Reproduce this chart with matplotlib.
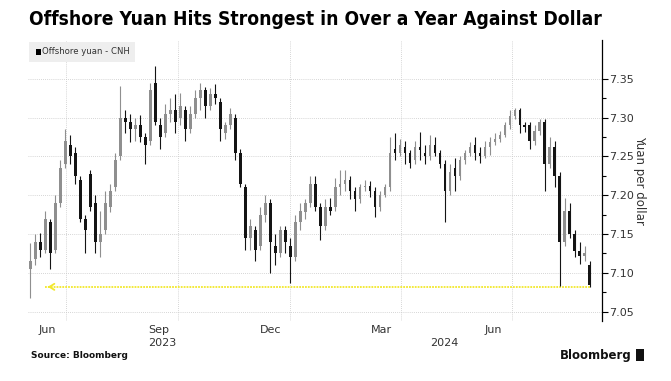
"""Offshore yuan (CNH) candlestick chart, Bloomberg style."""

import matplotlib
matplotlib.use('Agg')
from matplotlib import pyplot as plt
from matplotlib import dates as mdates
from matplotlib import transforms
from matplotlib.patches import Rectangle
import numpy as np
import pandas as pd


TITLE = 'Offshore Yuan Hits Strongest in Over a Year Against Dollar'
LEGEND = 'Offshore yuan - CNH'
YLABEL = 'Yuan per dollar'
SOURCE = 'Source: Bloomberg'

# First and last bar of the series (bars are spread evenly between them)
FIRST_BAR = '2023-06-02'
LAST_BAR = '2024-09-03'

# Candle values, roughly one bar per 4 days
OPEN = [7.105, 7.118, 7.140, 7.130, 7.165, 7.130, 7.190, 7.240, 7.265, 7.255,
        7.220, 7.170, 7.228, 7.190, 7.140, 7.155, 7.185, 7.210, 7.250, 7.300,
        7.295, 7.285, 7.290, 7.275, 7.270, 7.345, 7.290, 7.280, 7.305, 7.310,
        7.300, 7.310, 7.285, 7.305, 7.325, 7.335, 7.315, 7.330, 7.320, 7.280,
        7.290, 7.300, 7.255, 7.210, 7.145, 7.155, 7.135, 7.175, 7.190, 7.135,
        7.125, 7.155, 7.135, 7.120, 7.165, 7.178, 7.190, 7.215, 7.185, 7.160,
        7.185, 7.185, 7.210, 7.215, 7.220, 7.205, 7.195, 7.210, 7.212, 7.205,
        7.185, 7.200, 7.210, 7.260, 7.255, 7.262, 7.255, 7.245, 7.262, 7.255,
        7.250, 7.265, 7.255, 7.240, 7.205, 7.235, 7.225, 7.245, 7.255, 7.265,
        7.255, 7.250, 7.262, 7.268, 7.272, 7.278, 7.290, 7.302, 7.310, 7.290,
        7.290, 7.270, 7.283, 7.295, 7.240, 7.262, 7.225, 7.140, 7.180, 7.150,
        7.128, 7.122, 7.110]
HIGH = [7.138, 7.150, 7.152, 7.180, 7.170, 7.200, 7.245, 7.285, 7.278, 7.262,
        7.225, 7.175, 7.232, 7.200, 7.180, 7.205, 7.215, 7.255, 7.341, 7.310,
        7.305, 7.300, 7.303, 7.280, 7.345, 7.367, 7.300, 7.318, 7.325, 7.330,
        7.332, 7.315, 7.315, 7.335, 7.345, 7.340, 7.338, 7.343, 7.325, 7.295,
        7.312, 7.305, 7.260, 7.215, 7.170, 7.160, 7.185, 7.200, 7.195, 7.150,
        7.160, 7.160, 7.145, 7.175, 7.190, 7.195, 7.225, 7.225, 7.190, 7.195,
        7.196, 7.222, 7.232, 7.232, 7.225, 7.210, 7.215, 7.220, 7.218, 7.210,
        7.205, 7.215, 7.275, 7.280, 7.272, 7.270, 7.258, 7.270, 7.281, 7.265,
        7.277, 7.275, 7.258, 7.245, 7.240, 7.248, 7.250, 7.258, 7.268, 7.275,
        7.262, 7.270, 7.275, 7.280, 7.283, 7.295, 7.310, 7.312, 7.312, 7.295,
        7.295, 7.290, 7.298, 7.298, 7.275, 7.270, 7.230, 7.196, 7.190, 7.155,
        7.140, 7.135, 7.115]
LOW = [7.068, 7.110, 7.120, 7.125, 7.105, 7.125, 7.185, 7.235, 7.240, 7.215,
       7.165, 7.125, 7.180, 7.125, 7.120, 7.150, 7.178, 7.205, 7.245, 7.280,
       7.268, 7.270, 7.268, 7.240, 7.265, 7.290, 7.260, 7.275, 7.295, 7.280,
       7.290, 7.270, 7.280, 7.300, 7.310, 7.300, 7.310, 7.318, 7.270, 7.272,
       7.285, 7.245, 7.210, 7.130, 7.130, 7.115, 7.130, 7.165, 7.100, 7.110,
       7.120, 7.125, 7.087, 7.115, 7.155, 7.170, 7.185, 7.180, 7.142, 7.155,
       7.175, 7.180, 7.200, 7.205, 7.195, 7.180, 7.190, 7.205, 7.198, 7.172,
       7.180, 7.198, 7.205, 7.245, 7.250, 7.240, 7.235, 7.240, 7.245, 7.240,
       7.245, 7.250, 7.235, 7.166, 7.200, 7.205, 7.220, 7.240, 7.250, 7.245,
       7.242, 7.248, 7.252, 7.265, 7.268, 7.275, 7.285, 7.298, 7.280, 7.282,
       7.260, 7.265, 7.278, 7.205, 7.235, 7.210, 7.083, 7.135, 7.145, 7.120,
       7.112, 7.115, 7.082]
CLOSE = [7.115, 7.140, 7.130, 7.170, 7.125, 7.190, 7.235, 7.270, 7.250, 7.225,
         7.170, 7.155, 7.185, 7.140, 7.150, 7.190, 7.205, 7.245, 7.300, 7.295,
         7.285, 7.290, 7.275, 7.265, 7.335, 7.295, 7.275, 7.305, 7.310, 7.295,
         7.315, 7.285, 7.305, 7.325, 7.335, 7.315, 7.330, 7.325, 7.285, 7.290,
         7.305, 7.255, 7.215, 7.145, 7.160, 7.130, 7.175, 7.190, 7.140, 7.125,
         7.155, 7.140, 7.120, 7.165, 7.180, 7.190, 7.215, 7.185, 7.160, 7.185,
         7.180, 7.210, 7.215, 7.220, 7.205, 7.195, 7.210, 7.212, 7.205, 7.185,
         7.200, 7.210, 7.255, 7.255, 7.265, 7.255, 7.242, 7.262, 7.258, 7.250,
         7.265, 7.255, 7.240, 7.205, 7.230, 7.225, 7.245, 7.255, 7.262, 7.255,
         7.250, 7.262, 7.268, 7.272, 7.278, 7.290, 7.302, 7.310, 7.290, 7.288,
         7.270, 7.283, 7.295, 7.240, 7.262, 7.225, 7.140, 7.180, 7.150, 7.128,
         7.122, 7.125, 7.085]

# Latest level marked by the yellow arrow
LATEST = 7.082
ARROW_START = '2023-06-14'
ARROW_END = '2024-09-03'

Y_TICKS = [7.05, 7.10, 7.15, 7.20, 7.25, 7.30, 7.35]
MONTH_LABELS = ['Jun', 'Sep', 'Dec', 'Mar', 'Jun']
MONTH_POS = ['2023-06-16', '2023-09-15', '2023-12-16', '2024-03-16',
             '2024-06-16']
QUARTERS = ['2023-07-01', '2023-10-01', '2024-01-01', '2024-04-01',
            '2024-07-01']
YEAR_LABELS = ['2023', '2024']
YEAR_POS = ['2023-09-18', '2024-05-07']

XLIM = ('2023-05-31', '2024-09-13')
YLIM = (7.038, 7.40)

UP_COLOR = '#8f8f8f'
DOWN_COLOR = '#141414'
YELLOW = '#f2e82c'
GRID = '#c8c8c8'
TEXT = '#333333'


def d2n(dates):
    """Date strings to matplotlib numbers."""
    return mdates.date2num(pd.to_datetime(dates))


def draw_candles(ax):
    """Draw the OHLC candles."""
    x = d2n(pd.date_range(FIRST_BAR, LAST_BAR, periods=len(CLOSE)))
    o, h, l, c = map(np.array, (OPEN, HIGH, LOW, CLOSE))
    colors = np.where(c >= o, UP_COLOR, DOWN_COLOR)
    ax.vlines(x, l, h, colors=colors, lw=0.8, zorder=3)
    body = np.abs(c - o)
    body = np.maximum(body, 0.0015)
    ax.bar(x, body, bottom=np.minimum(o, c), width=2.3, color=colors,
           linewidth=0, zorder=4)


def draw_latest(ax):
    """Yellow dotted line with arrow at the latest level."""
    x0, x1 = d2n([ARROW_START, ARROW_END])
    ax.plot([x0, x1], [LATEST, LATEST], color=YELLOW, lw=1.3,
            ls=(0, (1, 0.6)), zorder=2)
    ax.annotate('', xy=(x0, LATEST), xytext=(x0 + 6, LATEST),
                arrowprops=dict(arrowstyle='->,head_length=0.35,head_width=0.22',
                                color=YELLOW, lw=1.3), zorder=2)


def style_axes(ax):
    """Bloomberg-ish axes."""
    ax.set_xlim(*d2n(XLIM))
    ax.set_ylim(*YLIM)

    for side in ['left', 'top', 'bottom']:
        ax.spines[side].set_visible(False)
    ax.spines['right'].set_linewidth(0.9)

    # y axis on the right
    ax.yaxis.tick_right()
    ax.yaxis.set_label_position('right')
    ax.set_yticks(Y_TICKS)
    ax.set_yticklabels(['{:.2f}'.format(v) for v in Y_TICKS])
    ax.set_yticks(np.array(Y_TICKS[:-1]) + 0.025, minor=True)
    ax.tick_params(axis='y', which='major', length=4, width=0.8,
                   labelsize=8, labelcolor=TEXT, pad=1)
    ax.tick_params(axis='y', which='minor', length=3, width=0.8)
    ax.set_ylabel(YLABEL, rotation=270, fontsize=8.5, color=TEXT,
                  labelpad=9)

    # quarter gridlines, month labels in between
    ax.set_xticks(d2n(QUARTERS))
    ax.set_xticklabels([''] * len(QUARTERS))
    ax.set_xticks(d2n(MONTH_POS), minor=True)
    ax.set_xticklabels(MONTH_LABELS, minor=True)
    ax.tick_params(axis='x', which='both', length=0, labelsize=8,
                   labelcolor=TEXT, pad=3)

    trans = transforms.blended_transform_factory(ax.transData, ax.transAxes)
    for label, pos in zip(YEAR_LABELS, d2n(YEAR_POS)):
        ax.text(pos, -0.062, label, transform=trans, ha='center', va='top',
                fontsize=8, color=TEXT)

    ax.grid(True, which='major', color=GRID, lw=0.6, ls=(0, (1, 1.5)))
    ax.set_axisbelow(True)


def draw_legend(ax):
    """Grey legend box, top left."""
    ax.add_patch(Rectangle((0.002, 0.922), 0.185, 0.072,
                           transform=ax.transAxes, facecolor='#eeeeee',
                           edgecolor='none', zorder=5))
    ax.add_patch(Rectangle((0.0135, 0.947), 0.0085, 0.02,
                           transform=ax.transAxes, facecolor='black',
                           edgecolor='none', zorder=6))
    ax.text(0.024, 0.958, LEGEND, transform=ax.transAxes, fontsize=6.1,
            color=TEXT, va='center', ha='left', zorder=6)


def main():
    fig = plt.figure(figsize=(6.71, 3.81), dpi=100)
    ax = fig.add_axes([0.0417, 0.1575, 0.8555, 0.7375])

    draw_candles(ax)
    draw_latest(ax)
    style_axes(ax)
    draw_legend(ax)

    fig.text(0.043, 0.935, TITLE, fontsize=13.8, fontweight='bold',
             fontstretch='condensed', family='DejaVu Sans', va='baseline')
    fig.text(0.046, 0.066, SOURCE, fontsize=6.5, fontweight='bold',
             color='#111111', va='center')
    fig.text(0.942, 0.068, 'Bloomberg', fontsize=8.5, fontweight='bold',
             color='#111111', ha='right', va='center')
    fig.add_artist(Rectangle((0.948, 0.052), 0.012, 0.032,
                             transform=fig.transFigure, facecolor='#111111',
                             edgecolor='none'))

    fig.savefig('out.png', dpi=100)


if __name__ == '__main__':
    main()
